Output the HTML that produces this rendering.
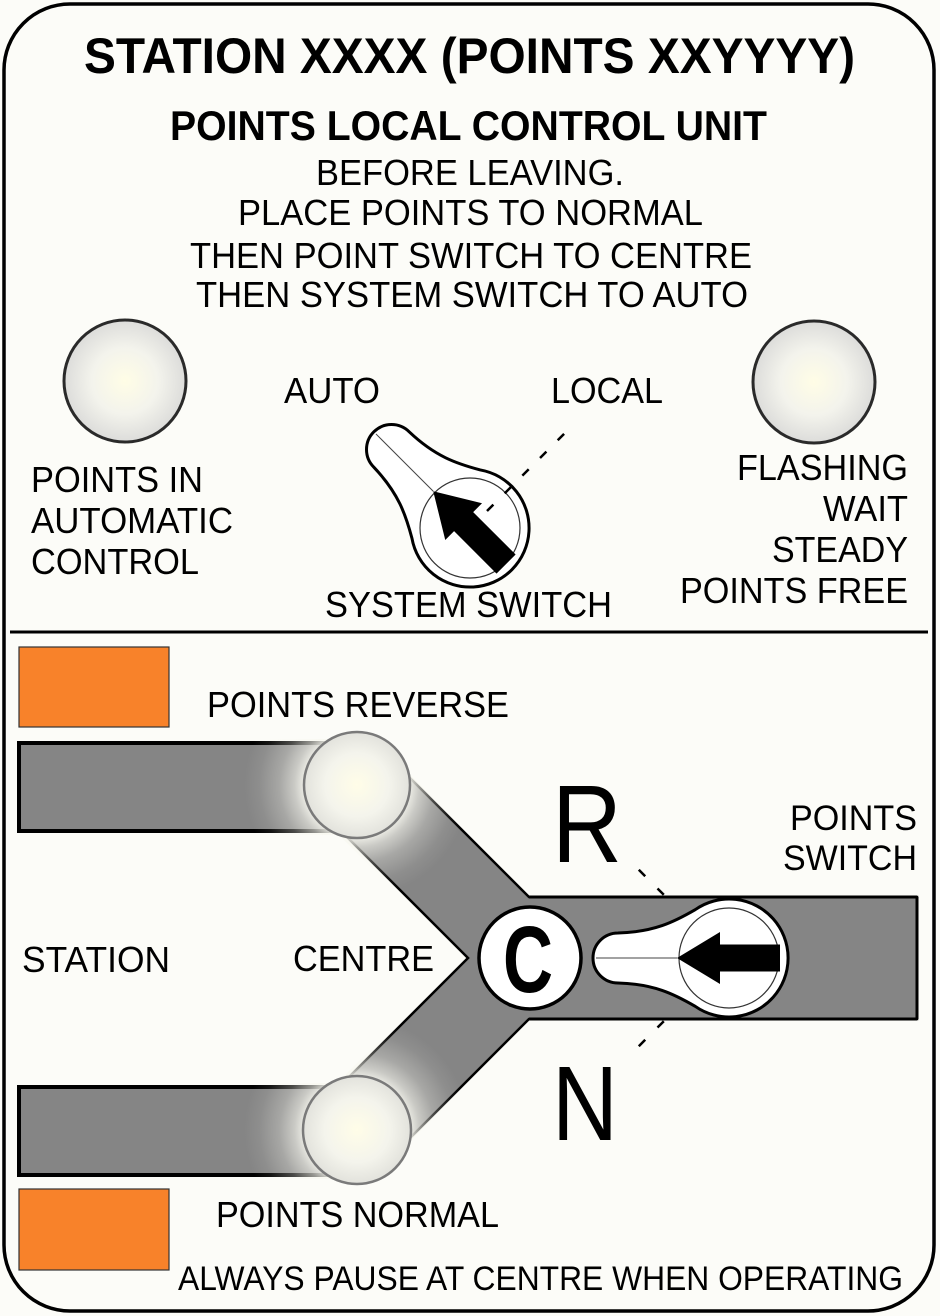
<!DOCTYPE html>
<html>
<head>
<meta charset="utf-8">
<style>
  html,body{margin:0;padding:0;background:#FCFCF8;}
  svg{display:block;}
  text{font-family:"Liberation Sans", Arial, sans-serif; fill:#000;}
</style>
</head>
<body>
<svg width="940" height="1316" viewBox="0 0 940 1316" xmlns="http://www.w3.org/2000/svg">
  <defs>
    <radialGradient id="lampG" cx="0.5" cy="0.5" r="0.5">
      <stop offset="0" stop-color="#FFFDE6"/>
      <stop offset="0.55" stop-color="#F3F3EC"/>
      <stop offset="1" stop-color="#DCDCDA"/>
    </radialGradient>
    <radialGradient id="lampG2" cx="0.5" cy="0.5" r="0.5">
      <stop offset="0" stop-color="#FFFDE8"/>
      <stop offset="0.6" stop-color="#F4F4EC"/>
      <stop offset="1" stop-color="#E2E2DC"/>
    </radialGradient>
    <radialGradient id="glowT" gradientUnits="userSpaceOnUse" cx="357" cy="785" r="125">
      <stop offset="0" stop-color="#F8F8F0" stop-opacity="0.95"/>
      <stop offset="0.42" stop-color="#F8F8F0" stop-opacity="0.9"/>
      <stop offset="0.5" stop-color="#F8F8F0" stop-opacity="0.6"/>
      <stop offset="0.62" stop-color="#F8F8F0" stop-opacity="0.3"/>
      <stop offset="0.78" stop-color="#F8F8F0" stop-opacity="0.08"/>
      <stop offset="0.9" stop-color="#F8F8F0" stop-opacity="0"/>
    </radialGradient>
    <radialGradient id="glowB" gradientUnits="userSpaceOnUse" cx="357" cy="1130" r="125">
      <stop offset="0" stop-color="#F8F8F0" stop-opacity="0.95"/>
      <stop offset="0.42" stop-color="#F8F8F0" stop-opacity="0.9"/>
      <stop offset="0.5" stop-color="#F8F8F0" stop-opacity="0.6"/>
      <stop offset="0.62" stop-color="#F8F8F0" stop-opacity="0.3"/>
      <stop offset="0.78" stop-color="#F8F8F0" stop-opacity="0.08"/>
      <stop offset="0.9" stop-color="#F8F8F0" stop-opacity="0"/>
    </radialGradient>
    <clipPath id="trackClip">
      <rect x="15" y="739" width="360" height="96"/>
      <rect x="15" y="1083" width="360" height="96"/>
      <polygon points="385,750 533,895 533,1021 385,1166 320,1100 462,958 320,816"/>
    </clipPath>
  </defs>

  <!-- outer border -->
  <rect x="4" y="4" width="930" height="1307" rx="66" ry="66" fill="#FCFCF8" stroke="#000" stroke-width="3.5"/>

  <!-- header texts -->
  <text x="84" y="73" font-size="50" font-weight="bold" textLength="771" lengthAdjust="spacingAndGlyphs">STATION XXXX (POINTS XXYYYY)</text>
  <text x="170" y="140" font-size="42" font-weight="bold" textLength="597" lengthAdjust="spacingAndGlyphs">POINTS LOCAL CONTROL UNIT</text>
  <text x="316" y="185" font-size="36" textLength="308" lengthAdjust="spacingAndGlyphs">BEFORE LEAVING.</text>
  <text x="238" y="225" font-size="36" textLength="465" lengthAdjust="spacingAndGlyphs">PLACE POINTS TO NORMAL</text>
  <text x="190" y="268" font-size="36" textLength="562" lengthAdjust="spacingAndGlyphs">THEN POINT SWITCH TO CENTRE</text>
  <text x="196" y="307" font-size="36" textLength="552" lengthAdjust="spacingAndGlyphs">THEN SYSTEM SWITCH TO AUTO</text>

  <!-- top lamps -->
  <circle cx="125" cy="381" r="61" fill="url(#lampG)" stroke="#2A2A2A" stroke-width="3"/>
  <circle cx="814" cy="382" r="61" fill="url(#lampG)" stroke="#2A2A2A" stroke-width="3"/>

  <!-- top labels -->
  <text x="284" y="403" font-size="36" textLength="96" lengthAdjust="spacingAndGlyphs">AUTO</text>
  <text x="551" y="403" font-size="36" textLength="112" lengthAdjust="spacingAndGlyphs">LOCAL</text>
  <text x="31" y="492" font-size="36" textLength="172" lengthAdjust="spacingAndGlyphs">POINTS IN</text>
  <text x="31" y="533" font-size="36" textLength="202" lengthAdjust="spacingAndGlyphs">AUTOMATIC</text>
  <text x="31" y="574" font-size="36" textLength="168" lengthAdjust="spacingAndGlyphs">CONTROL</text>
  <text x="737" y="480" font-size="36" textLength="171" lengthAdjust="spacingAndGlyphs">FLASHING</text>
  <text x="823" y="521" font-size="36" textLength="85" lengthAdjust="spacingAndGlyphs">WAIT</text>
  <text x="772" y="562" font-size="36" textLength="136" lengthAdjust="spacingAndGlyphs">STEADY</text>
  <text x="680" y="603" font-size="36" textLength="228" lengthAdjust="spacingAndGlyphs">POINTS FREE</text>
  <text x="325" y="617" font-size="36" textLength="287" lengthAdjust="spacingAndGlyphs">SYSTEM SWITCH</text>

  <!-- system switch -->
  <g transform="translate(470,528) rotate(45)">
    <path d="M -33.8,-48.3 C -55,-36 -75,-26 -111,-25 A 25 25 0 0 0 -111,25 C -75,26 -55,36 -33.8,48.3 A 59 59 0 1 0 -33.8,-48.3 Z" fill="#FFFFFF" stroke="#000" stroke-width="3"/>
    <circle cx="0" cy="0" r="50" fill="none" stroke="#333" stroke-width="1.2"/>
    <line x1="-133" y1="0" x2="-52" y2="0" stroke="#444" stroke-width="1"/>
    <polygon points="-52,0 -9,-26 -9,-13.5 51,-13.5 51,13.5 -9,13.5 -9,26" fill="#000"/>
  </g>
  <line x1="487" y1="511" x2="568" y2="430" stroke="#000" stroke-width="2.5" stroke-dasharray="9 16"/>

  <!-- divider -->
  <line x1="10" y1="632" x2="928" y2="632" stroke="#000" stroke-width="3"/>

  <!-- orange blocks -->
  <rect x="19" y="647" width="150" height="80" fill="#F8822A" stroke="#333" stroke-width="1.2"/>
  <rect x="19" y="1189" width="150" height="81" fill="#F8822A" stroke="#333" stroke-width="1.2"/>

  <text x="207" y="717" font-size="36" textLength="302" lengthAdjust="spacingAndGlyphs">POINTS REVERSE</text>

  <!-- dashes for R / N (under track) -->
  <line x1="638.8" y1="869.8" x2="645.2" y2="876.2" stroke="#000" stroke-width="2.5"/>
  <line x1="657.5" y1="888.5" x2="663.8" y2="894.8" stroke="#000" stroke-width="2.5"/>
  <line x1="638.8" y1="1046.2" x2="645.2" y2="1039.8" stroke="#000" stroke-width="2.5"/>
  <line x1="657.5" y1="1027.5" x2="663.8" y2="1021.2" stroke="#000" stroke-width="2.5"/>

  <!-- track -->
  <rect x="19" y="743" width="350" height="88" fill="#858585" stroke="#000" stroke-width="4"/>
  <rect x="19" y="1087" width="350" height="88" fill="#858585" stroke="#000" stroke-width="4"/>
  <polygon points="387,755 529,897 917,897 917,1019 529,1019 387.5,1160.5 326.5,1099.5 468,958 326,816" fill="#858585" stroke="#000" stroke-width="2.5" stroke-linejoin="miter"/>
  <line x1="917" y1="897" x2="917" y2="1019" stroke="#000" stroke-width="3"/>
  <line x1="529" y1="897" x2="917" y2="897" stroke="#000" stroke-width="3"/>
  <line x1="529" y1="1019" x2="917" y2="1019" stroke="#000" stroke-width="3"/>

  <!-- glow near lamps -->
  <g clip-path="url(#trackClip)">
    <circle cx="357" cy="785" r="125" fill="url(#glowT)"/>
    <circle cx="357" cy="1130" r="125" fill="url(#glowB)"/>
  </g>

  <!-- bottom lamps -->
  <circle cx="357" cy="785" r="53" fill="url(#lampG2)" stroke="#7A7A7A" stroke-width="2.5"/>
  <circle cx="357" cy="1130" r="54" fill="url(#lampG2)" stroke="#7A7A7A" stroke-width="2.5"/>

  <!-- C circle -->
  <circle cx="530" cy="958" r="51" fill="#FFFFFF" stroke="#000" stroke-width="3.5"/>
  <text x="503" y="992" font-size="95" font-weight="bold" textLength="50" lengthAdjust="spacingAndGlyphs">C</text>

  <!-- points switch -->
  <g transform="translate(729,958)">
    <path d="M -33.8,-48.3 C -55,-36 -75,-26 -111,-25 A 25 25 0 0 0 -111,25 C -75,26 -55,36 -33.8,48.3 A 59 59 0 1 0 -33.8,-48.3 Z" fill="#FFFFFF" stroke="#000" stroke-width="3"/>
    <circle cx="0" cy="0" r="50" fill="none" stroke="#333" stroke-width="1.2"/>
    <line x1="-133" y1="0" x2="-52" y2="0" stroke="#444" stroke-width="1"/>
    <polygon points="-52,0 -9,-26 -9,-13.5 51,-13.5 51,13.5 -9,13.5 -9,26" fill="#000"/>
  </g>

  <!-- bottom labels -->
  <text x="552" y="862" font-size="110" textLength="70" lengthAdjust="spacingAndGlyphs">R</text>
  <text x="552" y="1140" font-size="106" textLength="66" lengthAdjust="spacingAndGlyphs">N</text>
  <text x="790" y="830" font-size="35" textLength="127" lengthAdjust="spacingAndGlyphs">POINTS</text>
  <text x="783" y="870" font-size="35" textLength="134" lengthAdjust="spacingAndGlyphs">SWITCH</text>
  <text x="22" y="972" font-size="36" textLength="148" lengthAdjust="spacingAndGlyphs">STATION</text>
  <text x="293" y="971" font-size="36" textLength="141" lengthAdjust="spacingAndGlyphs">CENTRE</text>
  <text x="216" y="1227" font-size="36" textLength="283" lengthAdjust="spacingAndGlyphs">POINTS NORMAL</text>
  <text x="178" y="1290" font-size="34" textLength="725" lengthAdjust="spacingAndGlyphs">ALWAYS PAUSE AT CENTRE WHEN OPERATING</text>
</svg>
</body>
</html>
